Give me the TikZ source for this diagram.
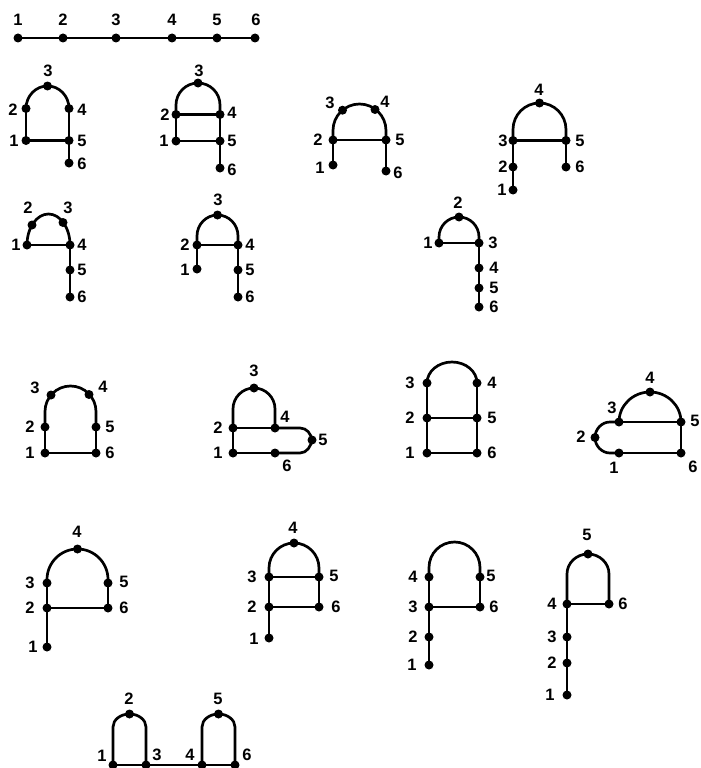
\documentclass[tikz,border=0pt]{standalone}
\usepackage{fontspec}
\setmainfont{Liberation Sans}
\newcommand\labfont{\fontsize{16.5}{16.5}\selectfont\bfseries}
\newcommand\vx[6]{\node[dot] (#1) at (#2,#3) {}; \node[lab] (#1l) at (#5,#6) {#4};}
\newcommand\hump[5]{\draw[ln] (#1.center) -- ++(0,-#3) arc[start angle=180,end angle=360,x radius=#4,y radius=#5] -- (#2.center);}
\tikzset{
  dot/.style={circle,fill=black,inner sep=0pt,minimum size=9pt},
  lab/.style={inner sep=0pt,font=\labfont},
  ln/.style={line width=2.7pt,line cap=round,line join=round}
}
\begin{document}
\begin{tikzpicture}[x=1pt,y=-1pt]
\useasboundingbox (0,0) rectangle (701,768);
% path
\vx{p1}{18}{38}{1}{18}{20}
\vx{p2}{63}{38}{2}{63}{20}
\vx{p3}{116}{38}{3}{116}{20}
\vx{p4}{172}{38}{4}{172}{20}
\vx{p5}{217}{38}{5}{217}{20}
\vx{p6}{255}{38}{6}{256}{20}
\draw[ln] (p1.center) -- (p2.center) -- (p3.center) -- (p4.center) -- (p5.center) -- (p6.center);
% A1
\vx{a1}{26}{140.5}{1}{14}{141}
\vx{a2}{26}{108.5}{2}{13}{110}
\vx{a3}{47.5}{86}{3}{48}{70.5}
\vx{a4}{69}{108.5}{4}{82}{110}
\vx{a5}{69}{140.5}{5}{82}{141}
\vx{a6}{69}{163}{6}{82}{164}
\draw[ln] (a1.center) -- (a2.center);
\hump{a2}{a4}{0}{21.5}{22.5}
\draw[ln] (a4.center) -- (a5.center) -- (a6.center);
\draw[ln] (a1.center) -- (a5.center);
% A2
\vx{b1}{176}{141}{1}{164}{141}
\vx{b2}{176}{114.5}{2}{165}{115}
\vx{b3}{198}{83}{3}{199}{70.5}
\vx{b4}{220}{114.5}{4}{232}{113}
\vx{b5}{220}{141}{5}{232}{141}
\vx{b6}{220}{168}{6}{232}{170}
\draw[ln] (b1.center) -- (b2.center);
\draw[ln] (b2.center) -- (b4.center);
\hump{b2}{b4}{9.5}{22}{22}
\draw[ln] (b4.center) -- (b5.center) -- (b6.center);
\draw[ln] (b1.center) -- (b5.center);
% A3
\vx{c1}{333}{165}{1}{320}{168}
\vx{c2}{333}{140}{2}{318}{140}
\vx{c3}{342.5}{110.2}{3}{330}{103}
\vx{c4}{375}{109.5}{4}{385}{102}
\vx{c5}{386}{140}{5}{400}{140}
\vx{c6}{386}{171}{6}{398}{173}
\draw[ln] (c1.center) -- (c2.center);
\draw[ln] (c2.center) -- (c5.center);
\hump{c2}{c5}{9.5}{26.5}{26.5}
\draw[ln] (c5.center) -- (c6.center);
% A4
\vx{d1}{513}{190}{1}{502}{190}
\vx{d2}{513}{167}{2}{503}{167}
\vx{d3}{513}{140.5}{3}{503}{141}
\vx{d4}{539.5}{103}{4}{539}{90}
\vx{d5}{566}{140.5}{5}{580}{141}
\vx{d6}{566}{167}{6}{580}{167}
\draw[ln] (d1.center) -- (d2.center) -- (d3.center);
\draw[ln] (d3.center) -- (d5.center);
\hump{d3}{d5}{11}{26.5}{26.5}
\draw[ln] (d5.center) -- (d6.center);
% B1
\vx{e1}{27}{245}{1}{16}{245}
\vx{e2}{32}{225}{2}{28}{208}
\vx{e3}{63}{222.5}{3}{68}{208}
\vx{e4}{70}{245}{4}{82}{245}
\vx{e5}{70}{270}{5}{82}{270}
\vx{e6}{70}{297}{6}{82}{297}
\hump{e1}{e4}{0}{21.5}{31}
\draw[ln] (e1.center) -- (e4.center);
\draw[ln] (e4.center) -- (e5.center) -- (e6.center);
% B2
\vx{f1}{197}{269}{1}{185}{270}
\vx{f2}{197}{245}{2}{185}{245}
\vx{f3}{217.5}{215}{3}{218}{200}
\vx{f4}{238}{245}{4}{250}{245}
\vx{f5}{238}{270}{5}{250}{270}
\vx{f6}{238}{297}{6}{250}{297}
\draw[ln] (f1.center) -- (f2.center);
\draw[ln] (f2.center) -- (f4.center);
\hump{f2}{f4}{9}{20.5}{21}
\draw[ln] (f4.center) -- (f5.center) -- (f6.center);
% B3
\vx{g1}{439}{243}{1}{428}{243}
\vx{g2}{459}{217}{2}{458}{203}
\vx{g3}{479}{243}{3}{493}{243}
\vx{g4}{479}{268}{4}{494}{268}
\vx{g5}{479}{288}{5}{494}{288}
\vx{g6}{479}{307}{6}{494}{307}
\draw[ln] (g1.center) -- (g3.center);
\hump{g1}{g3}{6}{20}{20}
\draw[ln] (g3.center) -- (g4.center) -- (g5.center) -- (g6.center);
% C1
\vx{h1}{45}{453}{1}{30}{453}
\vx{h2}{45}{427}{2}{30}{427}
\vx{h3}{51}{395}{3}{35}{388}
\vx{h4}{89}{394.5}{4}{103}{387}
\vx{h5}{96}{427}{5}{110}{427}
\vx{h6}{96}{453}{6}{110}{453}
\draw[ln] (h1.center) -- (h2.center);
\hump{h2}{h5}{15.5}{25.5}{25.5}
\draw[ln] (h5.center) -- (h6.center);
\draw[ln] (h1.center) -- (h6.center);
% C2
\vx{i1}{233}{453}{1}{218}{453}
\vx{i2}{233}{428}{2}{218}{428}
\vx{i3}{254}{388}{3}{254}{371}
\vx{i4}{275}{428}{4}{285}{417}
\vx{i5}{312}{440}{5}{323}{440}
\vx{i6}{275}{453}{6}{287}{466}
\draw[ln] (i1.center) -- (i2.center);
\draw[ln] (i2.center) -- (i4.center);
\hump{i2}{i4}{19}{21}{21}
\draw[ln] (i4.center) -- (300,428) .. controls (307,428) and (311,434) .. (i5.center) .. controls (311,446) and (307,453) .. (300,453) -- (i6.center);
\draw[ln] (i6.center) -- (i1.center);
% C3
\vx{j1}{427}{453}{1}{410}{453}
\vx{j2}{427}{418}{2}{410}{418}
\vx{j3}{427}{383}{3}{410}{383}
\vx{j4}{477}{383}{4}{492}{383}
\vx{j5}{477}{418}{5}{492}{418}
\vx{j6}{477}{453}{6}{492}{453}
\draw[ln] (j1.center) -- (j2.center) -- (j3.center);
\hump{j3}{j4}{0}{25}{21}
\draw[ln] (j2.center) -- (j5.center);
\draw[ln] (j4.center) -- (j5.center) -- (j6.center);
\draw[ln] (j1.center) -- (j6.center);
% C4
\vx{k1}{619}{453}{1}{614}{468}
\vx{k2}{595}{437.5}{2}{581}{437}
\vx{k3}{619}{422}{3}{612}{408}
\vx{k4}{650}{392}{4}{650}{378}
\vx{k5}{681}{422}{5}{695}{421}
\vx{k6}{681}{453}{6}{693}{467}
\draw[ln] (k3.center) -- (k5.center);
\hump{k3}{k5}{0}{31}{30}
\draw[ln] (k5.center) -- (k6.center) -- (k1.center);
\draw[ln] (k3.center) -- (610,422) .. controls (601.7,422) and (595,429.2) .. (k2.center) .. controls (595,445.8) and (601.7,453) .. (610,453) -- (k1.center);
% D1
\vx{l1}{47}{647}{1}{33}{647}
\vx{l2}{47}{608}{2}{30}{608}
\vx{l3}{47}{583}{3}{30}{583}
\vx{l4}{77.5}{549}{4}{77}{532}
\vx{l5}{108}{583}{5}{124}{582}
\vx{l6}{108}{608}{6}{124}{608}
\draw[ln] (l1.center) -- (l2.center) -- (l3.center);
\hump{l3}{l5}{3.5}{30.5}{30.5}
\draw[ln] (l5.center) -- (l6.center);
\draw[ln] (l2.center) -- (l6.center);
% D2
\vx{m1}{269}{638}{1}{254}{639}
\vx{m2}{269}{607}{2}{252}{607}
\vx{m3}{269}{577}{3}{252}{577}
\vx{m4}{294}{543}{4}{293}{528}
\vx{m5}{319}{577}{5}{334}{576}
\vx{m6}{319}{607}{6}{336}{607}
\draw[ln] (m1.center) -- (m2.center) -- (m3.center);
\draw[ln] (m3.center) -- (m5.center);
\hump{m3}{m5}{9}{25}{25}
\draw[ln] (m5.center) -- (m6.center);
\draw[ln] (m2.center) -- (m6.center);
% D3
\vx{n1}{429}{665}{1}{412}{665}
\vx{n2}{429}{637}{2}{413}{637}
\vx{n3}{429}{607}{3}{413}{607}
\vx{n4}{429}{577}{4}{413}{577}
\vx{n5}{480}{577}{5}{491}{576}
\vx{n6}{480}{607}{6}{494}{607}
\draw[ln] (n1.center) -- (n2.center) -- (n3.center) -- (n4.center);
\hump{n4}{n5}{9.5}{25.5}{25.5}
\draw[ln] (n5.center) -- (n6.center);
\draw[ln] (n3.center) -- (n6.center);
% D4
\vx{o1}{567}{695}{1}{550}{695}
\vx{o2}{567}{663}{2}{552}{663}
\vx{o3}{567}{637}{3}{552}{637}
\vx{o4}{567}{604}{4}{552}{604}
\vx{o5}{588}{554}{5}{587}{535}
\vx{o6}{609}{604}{6}{623}{604}
\draw[ln] (o1.center) -- (o2.center) -- (o3.center) -- (o4.center);
\draw[ln] (o4.center) -- (o6.center);
\hump{o4}{o6}{30}{21}{20}
% E
\vx{q1}{113}{765}{1}{102}{756}
\vx{q2}{129.5}{714}{2}{129}{699}
\vx{q3}{146}{765}{3}{157}{755}
\vx{q4}{202}{765}{4}{190}{755}
\vx{q5}{218.5}{714}{5}{218}{699}
\vx{q6}{235}{765}{6}{247}{755}
\draw[ln] (q1.center) -- (q3.center) -- (q4.center) -- (q6.center);
\hump{q1}{q3}{38}{16.5}{13}
\hump{q4}{q6}{38}{16.5}{13}
\end{tikzpicture}
\end{document}
